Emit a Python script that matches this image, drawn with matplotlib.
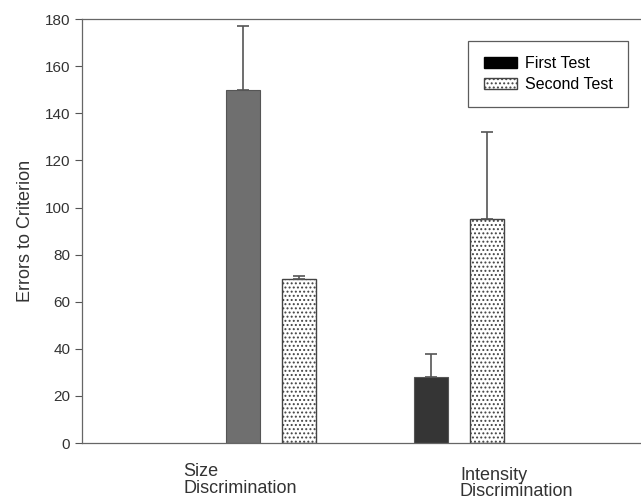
import matplotlib
matplotlib.use("Agg")
import matplotlib.pyplot as plt
import numpy as np
from matplotlib.patches import Patch

plt.rcParams['font.family'] = ['Liberation Sans', 'DejaVu Sans']
plt.rcParams['hatch.color'] = "#909090"
plt.rcParams['hatch.linewidth'] = 0.9

categories = ["Size\nDiscrimination", "Intensity\nDiscrimination"]
series = ["First Test", "Second Test"]
first_test = [150, 28]
first_err = [27, 10]
second_test = [69.5, 95]
second_err = [1.5, 37]
y_ticks = [0, 20, 40, 60, 80, 100, 120, 140, 160, 180]

fig = plt.figure(figsize=(6.41, 5.04), dpi=100)
ax = fig.add_axes([0.128, 0.121, 0.872, 0.841])

x = np.arange(len(categories))
off = 0.149
w = 0.181
first_colors = ["#6f6f6f", "#353535"]
ekw = dict(ecolor="#555555", elinewidth=1.2, capthick=1.2)
ax.bar(x - off, first_test, w, color=first_colors, edgecolor="#555555", linewidth=0.8,
       yerr=[[0, 0], first_err], capsize=4, error_kw=ekw, label=series[0], zorder=2)
ax.bar(x + off, second_test, w, color="white", edgecolor="#444444", hatch="....", linewidth=1.0,
       yerr=[[0, 0], second_err], capsize=4, error_kw=ekw, label=series[1], zorder=2)

ax.set_xlim(-1.005, 1.968)
ax.set_ylim(0, 180)
ax.set_yticks(y_ticks)
ax.tick_params(axis='y', labelsize=11, colors="#555555", labelcolor="#333333", length=5, width=0.8)
ax.set_xticks([])
for s in ["left", "bottom", "top"]:
    ax.spines[s].set_color("#666666")
    ax.spines[s].set_linewidth(0.9)
ax.spines["right"].set_visible(False)

ax.set_ylabel("Errors to Criterion", fontsize=13, color="#333333", labelpad=8)

label_dx = [-0.468, 0.005]
label_dy = [-0.048, -0.056]
for i, c in enumerate(categories):
    ax.text(x[i] + label_dx[i], label_dy[i], c, transform=ax.get_xaxis_transform(),
            ha="left", va="top", fontsize=13, color="#333333", linespacing=0.95)

handles = [Patch(facecolor="black", edgecolor="black", label=series[0]),
           Patch(facecolor="white", edgecolor="#444444", hatch="....", label=series[1])]
leg = ax.legend(handles=handles, loc="upper right", bbox_to_anchor=(0.977, 0.948), borderaxespad=0,
                fontsize=11.5, frameon=True, fancybox=False, edgecolor="#333333",
                handlelength=2.1, handleheight=0.65, handletextpad=0.5, labelspacing=0.35, borderpad=0.95)
leg.get_frame().set_linewidth(0.9)

fig.savefig("out.png", dpi=100)
